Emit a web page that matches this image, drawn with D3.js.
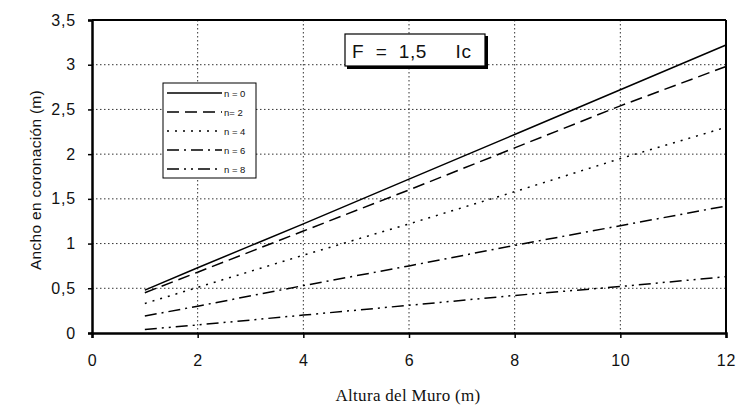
<!DOCTYPE html>
<html><head><meta charset="utf-8">
<script src="https://cdn.jsdelivr.net/npm/d3@7"></script>
<style>body{margin:0;background:#fff}</style>
</head><body>
<svg id="c" width="742" height="410"></svg>
<script>
const xValues = [1, 2, 4, 6, 8, 10, 12];
const seriesNames = ["n = 0", "n= 2", "n = 4", "n = 6", "n = 8"];
const n0 = [0.48, 0.73, 1.22, 1.72, 2.22, 2.72, 3.22];
const n2 = [0.45, 0.68, 1.14, 1.60, 2.07, 2.54, 2.98];
const n4 = [0.33, 0.51, 0.87, 1.22, 1.58, 1.95, 2.30];
const n6 = [0.19, 0.30, 0.53, 0.75, 0.98, 1.20, 1.42];
const n8 = [0.04, 0.09, 0.20, 0.31, 0.42, 0.52, 0.63];
const xTicks = [0, 2, 4, 6, 8, 10, 12];
const yTicks = [0, 0.5, 1, 1.5, 2, 2.5, 3, 3.5];
const dashes = ["none", "12,6", "2,6", "12,5,2,5", "12,5,2,5,2,5"];
const allSeries = [n0, n2, n4, n6, n8];

const svg = d3.select("#c");
const L = 92, R = 726, T = 20, B = 333;
const x = d3.scaleLinear().domain([0, 12]).range([L, R]);
const y = d3.scaleLinear().domain([0, 3.5]).range([B, T]);
const fmt = d => String(d).replace(".", ",");

// grid
svg.append("g").selectAll("line").data(yTicks.slice(1, -1)).join("line")
  .attr("x1", L).attr("x2", R).attr("y1", d => y(d)).attr("y2", d => y(d))
  .attr("stroke", "#333").attr("stroke-width", 1).attr("stroke-dasharray", "1.5,2.5");
svg.append("g").selectAll("line").data(xTicks.slice(1, -1)).join("line")
  .attr("y1", T).attr("y2", B).attr("x1", d => x(d)).attr("x2", d => x(d))
  .attr("stroke", "#333").attr("stroke-width", 1).attr("stroke-dasharray", "1.5,2.5");

// axes
const ya = svg.append("g").attr("transform", `translate(${L},0)`)
  .call(d3.axisLeft(y).tickValues(yTicks).tickFormat(fmt).tickSize(4).tickPadding(12));
const xa = svg.append("g").attr("transform", `translate(0,${B})`)
  .call(d3.axisBottom(x).tickValues(xTicks).tickSize(5).tickPadding(17));
[ya, xa].forEach(a => {
  a.select(".domain").attr("stroke", "#000").attr("stroke-width", 2.5);
  a.selectAll(".tick line").attr("stroke", "#000").attr("stroke-width", 1.5);
  a.selectAll("text").attr("font-family", "Liberation Sans, Arial, sans-serif")
    .attr("font-size", 16).attr("letter-spacing", 0.8).attr("fill", "#111");
});
// top and right border
svg.append("line").attr("x1", L).attr("x2", R).attr("y1", T).attr("y2", T).attr("stroke", "#000").attr("stroke-width", 2);
svg.append("line").attr("x1", R).attr("x2", R).attr("y1", T).attr("y2", B).attr("stroke", "#000").attr("stroke-width", 2);

// lines
const line = d3.line().x((d, i) => x(xValues[i])).y(d => y(d));
svg.append("g").selectAll("path").data(allSeries).join("path")
  .attr("d", d => line(d)).attr("fill", "none").attr("stroke", "#000")
  .attr("stroke-width", 1.5).attr("stroke-dasharray", (d, i) => dashes[i]);

// legend
const lg = svg.append("g");
lg.append("rect").attr("x", 163).attr("y", 83).attr("width", 93).attr("height", 95)
  .attr("fill", "#fff").attr("stroke", "#000").attr("stroke-width", 1);
seriesNames.forEach((s, i) => {
  const yy = 93 + i * 19;
  lg.append("line").attr("x1", 167).attr("x2", 222).attr("y1", yy).attr("y2", yy)
    .attr("stroke", "#000").attr("stroke-width", 1.5).attr("stroke-dasharray", dashes[i]);
  lg.append("text").attr("x", 224).attr("y", yy + 3.5).text(s)
    .attr("font-family", "Liberation Sans, Arial, sans-serif").attr("font-size", 9.5).attr("fill", "#111");
});

// F box
svg.append("rect").attr("x", 347).attr("y", 36).attr("width", 141).attr("height", 33).attr("fill", "#000");
svg.append("rect").attr("x", 345).attr("y", 34).attr("width", 140).attr("height", 32)
  .attr("fill", "#fff").attr("stroke", "#000").attr("stroke-width", 1.2);
svg.append("text").attr("x", 352).attr("y", 58).attr("xml:space", "preserve").text("F  =  1,5     Ic")
  .attr("font-family", "Liberation Sans, Arial, sans-serif").attr("font-size", 19).attr("letter-spacing", 0.5).attr("fill", "#111");

// titles
svg.append("text").attr("x", 408).attr("y", 401).attr("text-anchor", "middle").text("Altura del Muro (m)")
  .attr("font-family", "Liberation Serif, Times New Roman, serif").attr("font-size", 17).attr("letter-spacing", 0.3).attr("fill", "#111");
svg.append("text").attr("transform", "translate(41,180) rotate(-90)").attr("text-anchor", "middle")
  .text("Ancho en coronación (m)")
  .attr("font-family", "Liberation Sans, Arial, sans-serif").attr("font-size", 15.5).attr("letter-spacing", 0.3).attr("fill", "#111");
</script>
</body></html>
